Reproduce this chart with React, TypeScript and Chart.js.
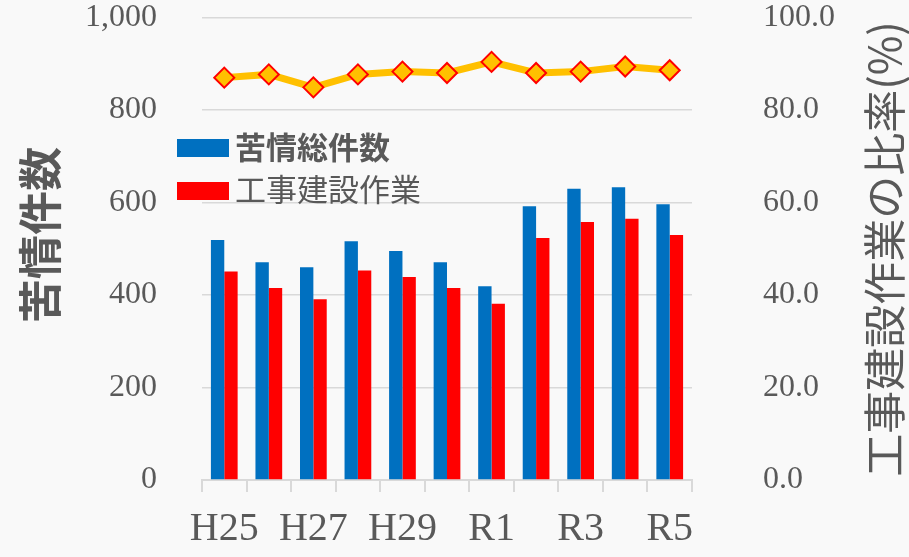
import React, { useEffect, useRef } from 'react';
import { Chart, registerables } from 'chart.js';
Chart.register(...registerables);

const categories = ['H25', 'H26', 'H27', 'H28', 'H29', 'H30', 'R1', 'R2', 'R3', 'R4', 'R5'];
const totalComplaints = [519, 471, 460, 516, 495, 471, 419, 592, 630, 633, 596];
const constructionWork = [451, 415, 391, 453, 439, 415, 381, 523, 558, 565, 530];
const constructionRatio = [87.0, 87.7, 84.9, 87.7, 88.3, 88.0, 90.4, 88.0, 88.3, 89.4, 88.6];
const seriesNames = ['苦情総件数', '工事建設作業'];
const leftTitle = '苦情件数';
const rightTitle = '工事建設作業の比率(%)';

const TEXT = '#595959';
const GRID = '#d9d9d9';
const SERIF = '"Liberation Serif", "DejaVu Serif", serif';
const CJK = '"Noto Sans CJK JP", "Noto Sans", sans-serif';

const overlayPlugin = {
  id: 'overlay',
  afterDraw(chart: any) {
    const ctx = chart.ctx as CanvasRenderingContext2D;
    ctx.save();
    ctx.fillStyle = TEXT;
    ctx.textAlign = 'center';
    ctx.textBaseline = 'middle';
    ctx.save();
    ctx.translate(40, 235);
    ctx.rotate(-Math.PI / 2);
    ctx.font = `bold 44px ${CJK}`;
    ctx.fillText(leftTitle, 0, 0);
    ctx.restore();
    ctx.save();
    ctx.translate(885, 249);
    ctx.rotate(-Math.PI / 2);
    ctx.font = `43px ${CJK}`;
    ctx.fillText(rightTitle, 0, 0);
    ctx.restore();
    ctx.textAlign = 'left';
    ctx.fillStyle = '#0070C0';
    ctx.fillRect(177, 139, 52, 18);
    ctx.fillStyle = '#FF0000';
    ctx.fillRect(177, 182, 52, 18);
    ctx.fillStyle = TEXT;
    ctx.font = `bold 31px ${CJK}`;
    ctx.fillText(seriesNames[0], 235, 147);
    ctx.font = `31px ${CJK}`;
    ctx.fillText(seriesNames[1], 235, 189);
    ctx.restore();
  },
};

export default function App() {
  const ref = useRef<HTMLCanvasElement>(null);
  useEffect(() => {
    if (!ref.current) return;
    const chart = new Chart(ref.current, {
      type: 'bar',
      data: {
        labels: categories,
        datasets: [
          {
            type: 'line',
            label: '比率',
            data: constructionRatio,
            yAxisID: 'y1',
            borderColor: '#FFC000',
            borderWidth: 7,
            backgroundColor: '#FFC000',
            pointStyle: 'rectRot',
            pointRadius: 10,
            pointBackgroundColor: '#FFC000',
            pointBorderColor: '#FF0000',
            pointBorderWidth: 2,
            tension: 0,
            order: 0,
          } as any,
          {
            label: seriesNames[0],
            data: totalComplaints,
            backgroundColor: '#0070C0',
            yAxisID: 'y',
            barPercentage: 1,
            categoryPercentage: 0.6,
            order: 1,
          },
          {
            label: seriesNames[1],
            data: constructionWork,
            backgroundColor: '#FF0000',
            yAxisID: 'y',
            barPercentage: 1,
            categoryPercentage: 0.6,
            order: 2,
          },
        ],
      },
      options: {
        responsive: false,
        animation: false,
        layout: { padding: { top: 17.5, bottom: 0, left: 0, right: 0 } },
        plugins: { legend: { display: false }, tooltip: { enabled: false } },
        scales: {
          x: {
            grid: { drawOnChartArea: false, drawTicks: true, tickLength: 12, offset: true, color: GRID, lineWidth: 2 },
            border: { color: GRID, width: 2 },
            ticks: {
              autoSkip: false,
              maxRotation: 0,
              padding: 13,
              color: TEXT,
              font: { family: SERIF, size: 40 },
              callback: (_v: any, i: number) => (i % 2 === 0 ? categories[i] : ''),
            },
            afterFit: (s: any) => { s.height = 77; s.paddingLeft = 0; s.paddingRight = 0; },
          },
          y: {
            position: 'left',
            min: 0,
            max: 1000,
            grid: { color: GRID, lineWidth: 1.5, drawTicks: false },
            border: { display: false },
            ticks: {
              stepSize: 200,
              padding: 45,
              color: TEXT,
              font: { family: SERIF, size: 32 },
              callback: (v: any) => Number(v).toLocaleString('en-US'),
            },
            afterFit: (s: any) => { s.width = 202; s.paddingTop = 0; s.paddingBottom = 0; },
          },
          y1: {
            position: 'right',
            min: 0,
            max: 100,
            grid: { drawOnChartArea: false, drawTicks: false },
            border: { display: false },
            ticks: {
              stepSize: 20,
              padding: 71,
              color: TEXT,
              font: { family: SERIF, size: 32 },
              callback: (v: any) => Number(v).toFixed(1),
            },
            afterFit: (s: any) => { s.width = 217; s.paddingTop = 0; s.paddingBottom = 0; },
          },
        },
      },
      plugins: [overlayPlugin],
    });
    return () => chart.destroy();
  }, []);
  return (
    <div style={{ position: 'absolute', left: 0, top: 0, width: 909, height: 557, background: '#f9f9f9' }}>
      <canvas ref={ref} width={909} height={557} />
    </div>
  );
}
